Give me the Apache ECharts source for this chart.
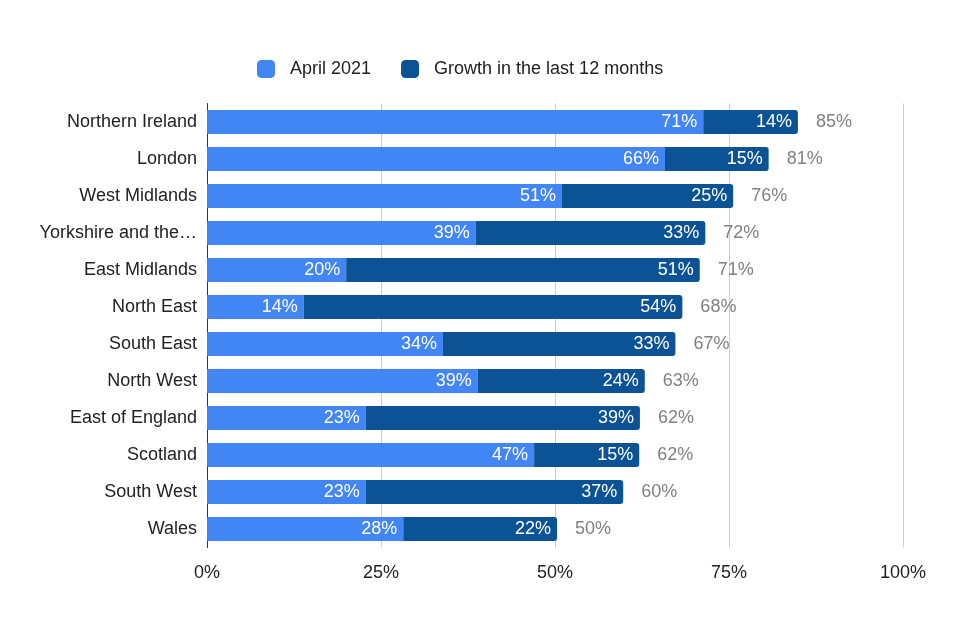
<!DOCTYPE html>
<html><head><meta charset="utf-8">
<script src="https://cdn.jsdelivr.net/npm/echarts@6/dist/echarts.min.js"></script>
<style>html,body{margin:0;padding:0;background:#fff}#c{width:960px;height:640px}</style>
</head><body><div id="c"></div>
<script>
const categories = ["Northern Ireland","London","West Midlands","Yorkshire and the\u2026","East Midlands","North East","South East","North West","East of England","Scotland","South West","Wales"];
const april2021 = [71.3, 65.8, 51.0, 38.6, 20.0, 13.9, 33.9, 38.9, 22.8, 47.0, 22.8, 28.2];
const growth = [13.6, 14.9, 24.6, 33.0, 50.8, 54.4, 33.4, 24.0, 39.4, 15.1, 37.0, 22.1];
const xTicks = [0, 25, 50, 75, 100];
const seriesNames = ["April 2021", "Growth in the last 12 months"];

const cats = categories.slice().reverse();
const a = april2021.slice().reverse();
const g = growth.slice().reverse();
const totals = a.map((v, i) => v + g[i]);
const FONT = 'Arial, "Liberation Sans", sans-serif';
const FS = 18;
const chart = echarts.init(document.getElementById('c'));
chart.setOption({
  animation: false,
  textStyle: { fontFamily: FONT },
  legend: {
    data: seriesNames, top: 55, left: 252, itemWidth: 18, itemHeight: 18, itemGap: 30,
    icon: 'roundRect',
    textStyle: { fontSize: FS, color: '#222', fontFamily: FONT, padding: [0, 0, 0, 10] }
  },
  grid: { left: 207, right: 57, top: 103.5, bottom: 92.5, containLabel: false },
  xAxis: {
    type: 'value', min: 0, max: 100, interval: 25,
    axisLabel: { formatter: v => xTicks.includes(v) ? v + '%' : '', fontSize: FS, color: '#222', margin: 17, fontFamily: FONT },
    splitLine: { lineStyle: { color: '#cccccc', width: 1 } },
    axisLine: { show: false }, axisTick: { show: false }
  },
  yAxis: {
    type: 'category', data: cats,
    axisLabel: { fontSize: FS, color: '#222', margin: 10, fontFamily: FONT },
    axisLine: { show: true, lineStyle: { color: '#333', width: 1 } },
    axisTick: { show: false }
  },
  series: [
    {
      name: seriesNames[0], type: 'bar', stack: 's', data: a, barWidth: 24,
      itemStyle: { color: '#4285F4' },
      label: { show: true, position: 'insideRight', distance: 6, color: '#fff', fontSize: FS, fontFamily: FONT,
        formatter: p => Math.round(p.value) + '%' }
    },
    {
      name: seriesNames[1], type: 'bar', stack: 's', data: g, barWidth: 24,
      itemStyle: { color: '#0B5394', borderRadius: [0, 3, 3, 0] },
      label: { show: true, position: 'insideRight', distance: 6, color: '#fff', fontSize: FS, fontFamily: FONT,
        formatter: p => Math.round(p.value) + '%' }
    },
    {
      name: 'Total', type: 'bar', stack: 's', data: totals.map(() => 0), barWidth: 24,
      itemStyle: { color: 'transparent' },
      label: { show: true, position: 'right', distance: 18, color: '#808080', fontSize: FS, fontFamily: FONT,
        formatter: p => Math.round(totals[p.dataIndex]) + '%' }
    }
  ]
});
</script></body></html>
